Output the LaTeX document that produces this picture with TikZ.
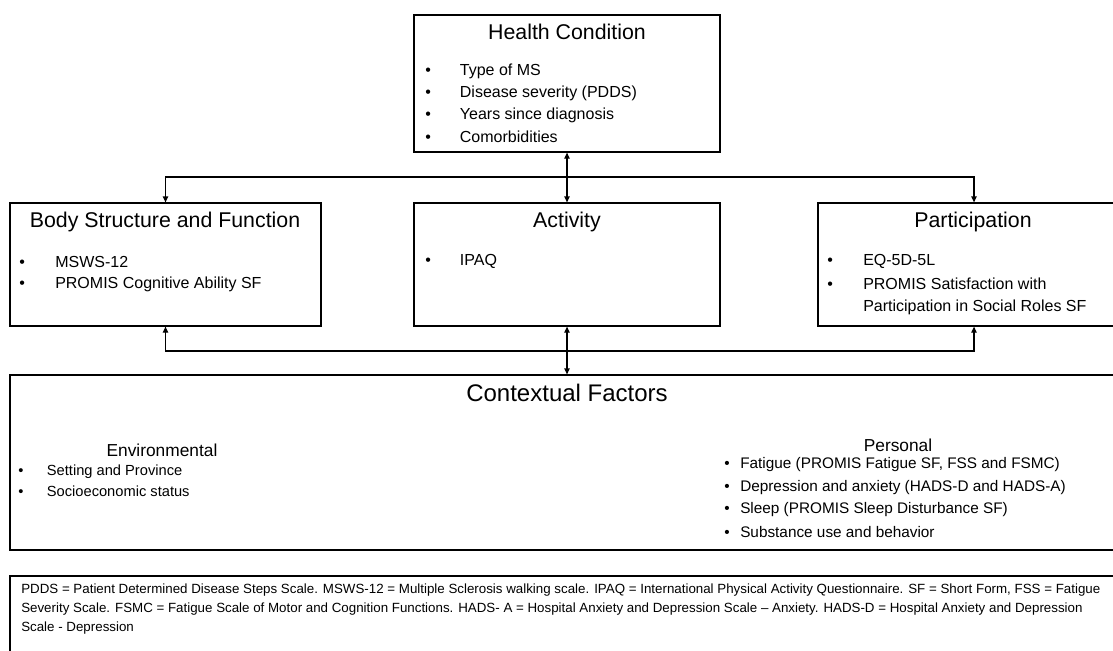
\documentclass[tikz,border=0pt]{standalone}
\usepackage{fontspec}
\setmainfont{Liberation Sans}
\usetikzlibrary{arrows.meta,fit}
\newcommand{\bul}[1]{\makebox[#1][l]{•}}
\begin{document}
\begin{tikzpicture}[x=0.75pt,y=-0.75pt,
  box/.style={draw, line width=0.9pt, rectangle, inner sep=0pt},
  head/.style={inner sep=0pt, font=\fontsize{16}{19}\selectfont},
  bighead/.style={inner sep=0pt, font=\fontsize{18}{21}\selectfont},
  subhead/.style={inner sep=0pt, font=\fontsize{13}{15}\selectfont},
  itm/.style={inner sep=0pt, anchor=west, font=\fontsize{12}{14}\selectfont},
  sitm/.style={inner sep=0pt, anchor=west, font=\fontsize{11}{13}\selectfont},
  pitm/.style={inner sep=0pt, anchor=west, font=\fontsize{11.5}{13}\selectfont},
  foot/.style={inner sep=0pt, anchor=west, font=\fontsize{10}{12}\selectfont},
  arr/.style={line width=0.9pt, {Triangle[length=4.5pt,width=4pt]}-{Triangle[length=4.5pt,width=4pt]}}
]
\clip (0,0) rectangle (1113,650);
\fill[white] (0,0) rectangle (1113,650);

% boxes
\node[box, fit={(414,15) (720,152)}] (hc) {};
\node[box, fit={(10,203) (321,326)}] (body) {};
\node[box, fit={(414,203) (720,326)}] (act) {};
\node[box, fit={(818,203) (1130,326)}] (par) {};
\node[box, fit={(10,375) (1130,550)}] (ctx) {};
\node[box, fit={(10,576) (1130,690)}] (fn) {};

% Health condition
\node[head] (hct) at (567,32) {Health Condition};
\node[itm] (hc1) at (425,71) {\bul{26pt}Type of MS};
\node[itm] (hc2) at (425,93) {\bul{26pt}Disease severity (PDDS)};
\node[itm] (hc3) at (425,115) {\bul{26pt}Years since diagnosis};
\node[itm] (hc4) at (425,137) {\bul{26pt}Comorbidities};

% Body
\node[head] (bodyt) at (165,222) {Body Structure and Function};
\node[itm] (b1) at (19,262) {\bul{27pt}MSWS-12};
\node[itm] (b2) at (19,284) {\bul{27pt}PROMIS Cognitive Ability SF};

% Activity
\node[head] (actt) at (567,222) {Activity};
\node[itm] (a1) at (425,261) {\bul{26pt}IPAQ};

% Participation
\node[head] (part) at (973,222) {Participation};
\node[itm] (p1) at (827,261) {\bul{27pt}EQ-5D-5L};
\node[itm] (p2) at (827,284) {\bul{27pt}PROMIS Satisfaction with};
\node[itm] (p3) at (863,307) {Participation in Social Roles SF};

% Contextual
\node[bighead] (ctxt) at (567,393) {Contextual Factors};
\node[subhead] (envt) at (162,450) {Environmental};
\node[sitm] (e1) at (18,472) {\bul{21.5pt}Setting and Province};
\node[sitm] (e2) at (18,491) {\bul{21.5pt}Socioeconomic status};
\node[subhead] (pert) at (898,445) {Personal};
\node[pitm] (q1) at (724,465) {\bul{12pt}Fatigue (PROMIS Fatigue SF, FSS and FSMC)};
\node[pitm] (q2) at (724,488) {\bul{12pt}Depression and anxiety (HADS-D and HADS-A)};
\node[pitm] (q3) at (724,510) {\bul{12pt}Sleep (PROMIS Sleep Disturbance SF)};
\node[pitm] (q4) at (724,532) {\bul{12pt}Substance use and behavior};

% Footnote
\node[foot] (f1) at (21,590) {PDDS = Patient Determined Disease Steps Scale. MSWS-12 = Multiple Sclerosis walking scale. IPAQ = International Physical Activity Questionnaire. SF = Short Form, FSS = Fatigue};
\node[foot] (f2) at (21,609) {Severity Scale. FSMC = Fatigue Scale of Motor and Cognition Functions. HADS- A = Hospital Anxiety and Depression Scale – Anxiety. HADS-D = Hospital Anxiety and Depression};
\node[foot] (f3) at (21,628) {Scale - Depression};

% connectors
\coordinate (ytop) at (0,177);
\coordinate (ybot) at (0,351);
\draw[arr] (hc.south) -- (act.north);
\draw[arr] (body.north) -- (body.north |- ytop) -- (par.north |- ytop) -- (par.north);
\draw[arr] (body.south) -- (body.south |- ybot) -- (par.south |- ybot) -- (par.south);
\draw[arr] (act.south) -- (act.south |- ctx.north);
\end{tikzpicture}
\end{document}
